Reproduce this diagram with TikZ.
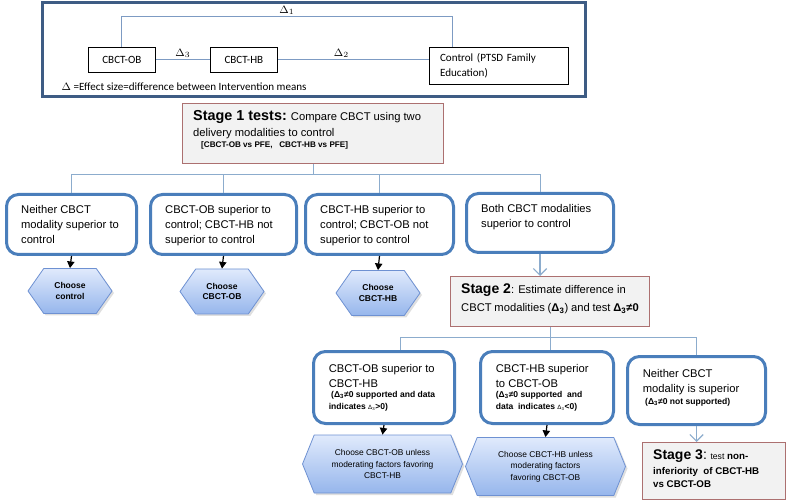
\documentclass[tikz,border=0pt]{standalone}
\usepackage{fontspec}
\setmainfont{Liberation Sans}
\newfontfamily\calfont{Carlito}
\usetikzlibrary{shapes.symbols,arrows.meta,shadows}

\definecolor{frameblue}{RGB}{62,92,132}
\definecolor{linkblue}{RGB}{125,155,195}
\definecolor{busblue}{RGB}{140,172,205}
\definecolor{boxblue}{RGB}{74,126,187}
\definecolor{stagered}{RGB}{172,112,112}
\definecolor{stagefill}{RGB}{242,242,242}
\definecolor{hextop}{RGB}{224,234,252}
\definecolor{hexbot}{RGB}{150,182,236}
\definecolor{hexline}{RGB}{110,145,210}

\newcommand{\boxtxt}[3]{\parbox[c][#2][t]{#1}{\raggedright #3}}

\tikzset{
	grp/.style={draw,line width=0.6pt,inner sep=0pt,font=\calfont\fontsize{8.3}{11.25}\selectfont},
	link/.style={draw=linkblue,line width=0.75pt},
	dlab/.style={above,inner sep=1.2pt,font=\fontsize{8.3}{10}\selectfont},
	bus/.style={draw=busblue,line width=0.75pt},
	rbox/.style={draw=boxblue,line width=2.25pt,rounded corners=9pt,fill=white,inner xsep=11pt,inner ysep=8pt,anchor=north west,font=\fontsize{8.4}{11.25}\selectfont},
	stagebox/.style={draw=stagered,fill=stagefill,line width=0.8pt,inner xsep=8pt,inner ysep=5.3pt,anchor=north west,font=\fontsize{8.4}{12}\selectfont},
	hexa/.style={signal,signal to=east and west,signal pointer angle=110,draw=hexline,line width=0.6pt,top color=hextop,bottom color=hexbot,drop shadow={opacity=0.25,shadow xshift=1.5pt,shadow yshift=-1.5pt},inner sep=1pt,align=center,minimum width=63pt,minimum height=33.75pt,font=\bfseries\fontsize{6.4}{7.8}\selectfont},
	hexb/.style={hexa,signal pointer angle=136,minimum width=120pt,minimum height=43.5pt,font=\fontsize{6.3}{8.75}\selectfont},
	blk/.style={line width=0.9pt,-{Triangle[length=5pt,width=5.5pt]}},
	barrow/.style={draw=busblue,line width=0.9pt,-{Straight Barb[length=5pt,width=10pt]}}
}

\begin{document}
\begin{tikzpicture}[x=0.75pt,y=-0.75pt]
	\useasboundingbox (0,0) rectangle (789,502);
	\draw[frameblue,line width=2.25pt] (42,3) rectangle (585,97);
	\node[grp,anchor=north west,minimum width=50.25pt,minimum height=18.75pt] (ob) at (88,47) {CBCT-OB};
	\node[grp,anchor=north west,minimum width=50.25pt,minimum height=18.75pt] (hb) at (210,47) {CBCT-HB};
	\node[grp,anchor=north west,text width=88.25pt,align=left,inner xsep=8pt,minimum height=27.75pt] (ctrl) at (429,47) {Control (PTSD Family\\Education)};
	\coordinate (topleg) at (452,17);
	\draw[link] (ob.north) |- node[pos=0.75,dlab] (d1) {$\Delta_1$} (topleg) -- (topleg |- ctrl.north);
	\draw[link] (ob) -- node[dlab] (d3) {$\Delta_3$} (hb);
	\draw[link] (hb.east) -- node[pos=0.42,dlab] (d2) {$\Delta_2$} (hb.east -| ctrl.west);
	\node[anchor=base west,font=\calfont\fontsize{8.3}{10}\selectfont] (legend) at (57,91) {$\Delta$ =Effect size=difference between Intervention means};

	\node[stagebox] (stageone) at (182,103) {\boxtxt{179.75pt}{34.4pt}{{\fontsize{10.8}{12}\selectfont\bfseries Stage 1 tests:} Compare CBCT using two\\ delivery modalities to control\\[-3.75pt] {\fontsize{6.1}{7}\selectfont\bfseries\hspace*{6pt}[CBCT-OB vs PFE,\ \ \ CBCT-HB vs PFE]}}};

	\node[rbox] (neither) at (5,193) {\boxtxt{75.5pt}{29pt}{Neither CBCT\\ modality superior to\\ control}};
	\node[rbox] (obonly) at (149,193) {\boxtxt{87.5pt}{29pt}{CBCT-OB superior to\\ control; CBCT-HB not\\ superior to control}};
	\node[rbox] (hbonly) at (304,193) {\boxtxt{89pt}{29pt}{CBCT-HB superior to\\ control; CBCT-OB not\\ superior to control}};
	\node[rbox] (both) at (465,192) {\boxtxt{88.25pt}{28.25pt}{Both CBCT modalities\\ superior to control}};

	\coordinate (busone) at (315,175);
	\draw[bus] (stageone.south) -- (stageone.south |- busone);
	\draw[bus] (neither.north) |- (both.north |- busone) -- (both.north);
	\draw[bus] (obonly.north) -- (obonly.north |- busone);
	\draw[bus] (hbonly.north) -- (hbonly.north |- busone);

	\node[hexa] (pickctrl) at (70,291) {Choose\\control};
	\node[hexa] (pickob) at (222,291.5) {Choose\\CBCT-OB};
	\node[hexa] (pickhb) at (378,293) {Choose\\CBCT-HB};
	\draw[blk] (neither.south) -- (pickctrl.north);
	\draw[blk] (obonly.south) -- (pickob.north);
	\draw[blk] (hbonly.south) -- (pickhb.north);

	\node[stagebox,font=\fontsize{8.4}{13.5}\selectfont] (stagetwo) at (450,276) {\boxtxt{133.25pt}{26.9pt}{{\fontsize{10.5}{12}\selectfont\bfseries Stage 2}: Estimate difference in\\ CBCT modalities (\textbf{Δ\textsubscript{3}}) and test \textbf{Δ\textsubscript{3}≠0}}};
	\draw[barrow] (both.south) -- (both.south |- stagetwo.north);

	\node[rbox,inner xsep=11.5pt,inner ysep=9.5pt] (obwin) at (312,350) {\boxtxt{82.75pt}{35pt}{CBCT-OB superior to\\ CBCT-HB\\[-1.5pt] {\fontsize{6.4}{9}\selectfont\bfseries\ (Δ\textsubscript{3}≠0 supported and data\\[-2.25pt] indicates {\mdseries\fontsize{4.6}{5}\selectfont Δ\textsubscript{3}}>0)}}};
	\node[rbox,inner xsep=11.5pt,inner ysep=9.5pt] (hbwin) at (479,350) {\boxtxt{76.75pt}{35pt}{CBCT-HB superior\\ to CBCT-OB\\[-1.5pt] {\fontsize{6.4}{9}\selectfont\bfseries (Δ\textsubscript{3}≠0 supported\ \ and\\[-2.25pt] data\ \ indicates {\mdseries\fontsize{4.6}{5}\selectfont Δ\textsubscript{3}}<0)}}};
	\node[rbox,inner xsep=11.5pt,inner ysep=9.5pt] (nowin) at (626,355) {\boxtxt{80.5pt}{32pt}{Neither CBCT\\ modality is superior\\[-2.25pt] {\fontsize{6.4}{9}\selectfont\bfseries\ (Δ\textsubscript{3}≠0 not supported)}}};

	\coordinate (bustwo) at (400,338);
	\draw[bus] (stagetwo.south) -- (stagetwo.south |- hbwin.north);
	\draw[bus] (bustwo |- obwin.north) -- (bustwo) -| (nowin.north);

	\node[hexb] (pickobm) at (382.5,464) {Choose CBCT-OB unless\\ moderating factors favoring\\ CBCT-HB};
	\node[hexb] (pickhbm) at (545.5,466.5) {Choose CBCT-HB unless\\ moderating factors\\ favoring CBCT-OB};
	\draw[blk] (obwin.south) -- (pickobm.north);
	\draw[blk] (hbwin.south) -- (pickhbm.north);

	\node[stagebox,font=\fontsize{7.3}{11.25}\selectfont] (stagethree) at (642,442) {\boxtxt{91.25pt}{32.15pt}{{\fontsize{10.5}{12}\selectfont\bfseries Stage 3}{\fontsize{10.5}{12}\selectfont:} {\fontsize{6.5}{8}\selectfont test} \textbf{non-}\\ \textbf{inferiority\ \ of CBCT-HB}\\[-1.5pt] \textbf{vs CBCT-OB}}};
	\draw[barrow] (nowin.south) -- (nowin.south |- stagethree.north);
\end{tikzpicture}
\end{document}
